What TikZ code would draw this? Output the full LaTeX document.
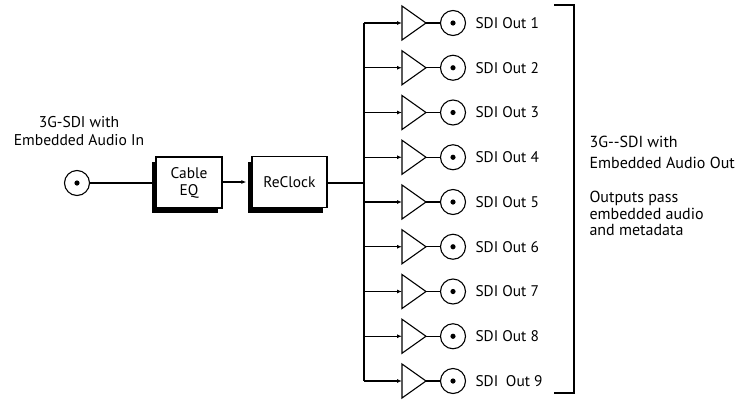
\documentclass[tikz,border=0pt]{standalone}
\usepackage{fontspec}
\setmainfont{PT Sans}
\usetikzlibrary{positioning, shapes.geometric, shadows, arrows.meta}
\tikzset{
	every node/.append style={
		font=\fontsize{15.4}{17}\selectfont,
	},
	block/.style={
		draw,
		fill=white,
		line width=1.3pt,
		align=center,
		minimum height=51pt,
		drop shadow={shadow xshift=-4pt, shadow yshift=-5pt, fill=black, opacity=1},
	},
	amp/.style={
		draw,
		isosceles triangle,
		isosceles triangle stretches,
		minimum width=34pt,
		minimum height=24pt,
		inner sep=0pt,
		outer sep=0pt,
	},
	bnc/.style={
		draw,
		circle,
		minimum size=25pt,
		inner sep=0pt,
		outer sep=0pt,
		path picture={\fill (path picture bounding box.center) circle (2.6pt);},
	},
	labe/.style={
		align=left,
		inner sep=0pt,
	},
}

\begin{document}
\begin{tikzpicture}[x=1pt, y=-1pt, line width=1.1pt, >={Latex[length=5pt, width=4pt]}]
		\useasboundingbox (0,0) rectangle (737,400);

		\node(in)[bnc] at (77,183) {};
		\node(inlbl)[labe, align=center, font=\fontsize{15.6}{18.5}\selectfont] at (79,131) {3G-SDI with\\Embedded Audio In};

		\node(eq)[block, minimum width=66pt] at (189,182.5) {Cable\\EQ};
		\node(rc)[block, minimum width=75pt] at (289.5,182) {ReClock};

		\draw (in) -- (in -| eq.west);
		\draw[->, shorten >=5pt] (eq.east |- rc) -- (rc.west);

		\coordinate(bus) at (364,183);
		\draw (rc.east |- bus) -- (bus);

		% nine outputs
		\foreach \i/\lab in {1/SDI Out 1, 2/SDI Out 2, 3/SDI Out 3, 4/SDI Out 4, 5/SDI Out 5, 6/SDI Out 6, 7/SDI Out 7, 8/SDI Out 8, 9/SDI\enspace Out 9}{
			\coordinate(tap\i) at (364, 23+44.75*\i-44.75);
			\node(amp\i)[amp, anchor=west] at (402, 23+44.75*\i-44.75) {};
			\node(out\i)[bnc] at (453, 23+44.75*\i-44.75) {};
			\node(outlbl\i)[labe, anchor=west] at (475, 23+44.75*\i-44.75) {\lab};
			\draw[->] (tap\i) -- (amp\i.west);
			\draw (amp\i.east) -- (out\i);
		}
		\draw (tap1) -- (tap9);

		% bracket
		\coordinate(brtop) at (554,5);
		\coordinate(brbot) at (554,393);
		\draw (brtop) -- ++(20,0) |- (brbot);

		\node(outtxt)[labe, anchor=west, font=\fontsize{16}{21}\selectfont] at (589,152.5) {3G-{}-SDI with\\Embedded Audio Out};
		\node(note)[labe, anchor=west, font=\fontsize{16}{16.7}\selectfont] at (589,213.5) {Outputs pass\\embedded audio\\and metadata};
\end{tikzpicture}
\end{document}
